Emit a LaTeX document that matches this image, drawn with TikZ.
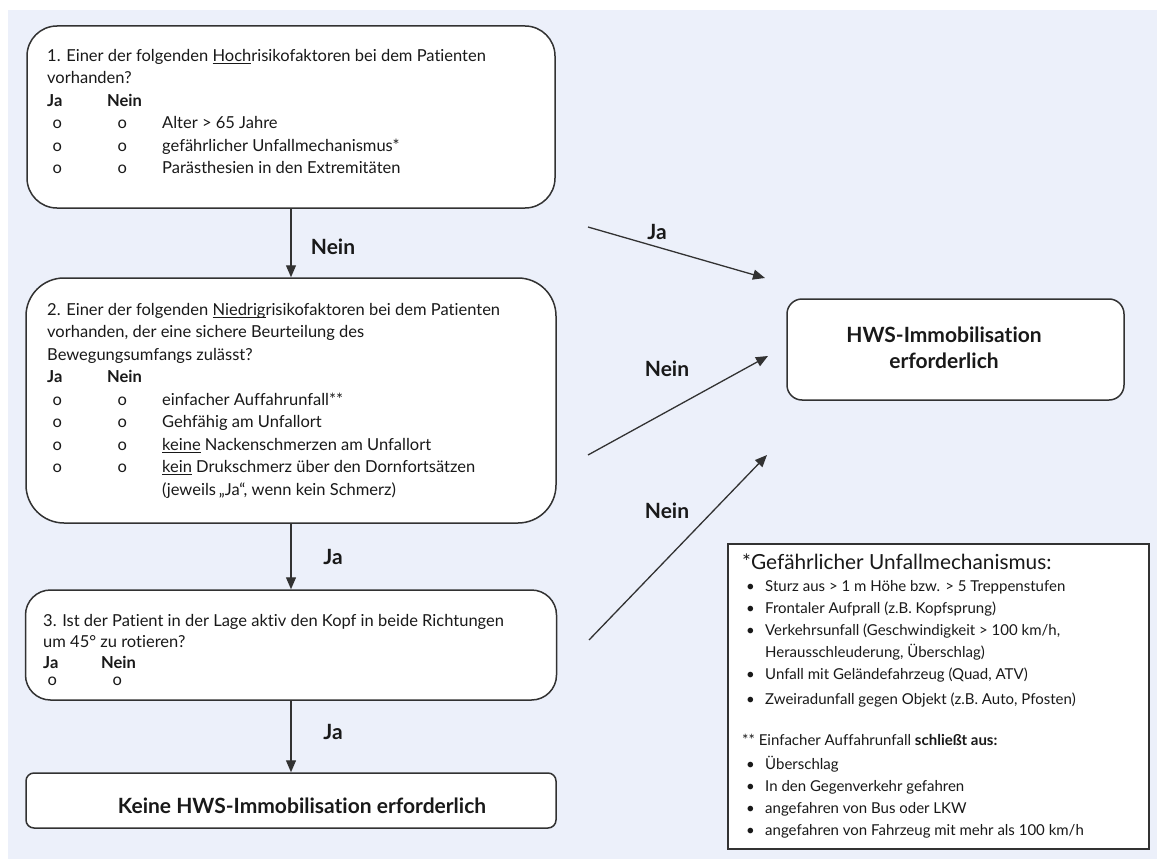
\documentclass[tikz,border=0pt]{standalone}
\usepackage{fontspec}
\setmainfont{Lato}[Ligatures={NoCommon}]
\usetikzlibrary{arrows.meta,positioning}

\definecolor{bgblue}{RGB}{236,240,250}
\definecolor{edge}{RGB}{50,50,50}
\definecolor{ink}{RGB}{25,25,25}

\newcommand{\ulword}[1]{\underline{\smash{#1}}}
\newcommand{\jnrow}[1]{\makebox[20pt]{o}\hspace*{45pt}\makebox[20pt]{o}\hspace*{30pt}#1}
\newcommand{\jnhead}{\makebox[60pt][l]{\textbf{Ja}}\textbf{Nein}}
\newcommand{\lgi}[1]{\hspace*{4pt}\makebox[19pt][l]{\textbullet}#1}

\begin{document}
\begin{tikzpicture}[
  x=1pt, y=-1pt,
  qbox/.style={draw=edge,line width=1.5pt,fill=white,inner sep=0pt},
  txt/.style={anchor=north west,inner sep=0pt,align=left,text=ink,
    font=\fontsize{16.5}{22.5}\selectfont},
  lbl/.style={inner sep=0pt,text=ink,font=\fontsize{21}{24}\selectfont\bfseries},
  flow/.style={draw=edge,line width=1.3pt,-{Triangle[length=12pt,width=10pt]}}
]
  \useasboundingbox (0,0) rectangle (1157,859);
  \fill[bgblue] (8,10) rectangle (1157,859);

  % question boxes
  \node[qbox,rounded corners=30pt,minimum width=528pt,minimum height=182pt] (q1) at (291,117) {};
  \node[qbox,rounded corners=38pt,minimum width=530pt,minimum height=245pt] (q2) at (291,400.5) {};
  \node[qbox,rounded corners=25pt,minimum width=531pt,minimum height=110pt] (q3) at (291,645) {};
  \node[qbox,rounded corners=8pt,minimum width=530pt,minimum height=55pt] (q4) at (291,800.5) {};
  \node[qbox,rounded corners=15pt,minimum width=337pt,minimum height=101pt] (hws) at (955.5,349.5) {};
  \node[draw=edge,line width=1.3pt,fill=white,minimum width=421pt,minimum height=305pt] (leg) at (938.5,696.5) {};

  \node[txt] (t1) at (47,49) {1. Einer der folgenden \ulword{Hoch}risikofaktoren bei dem Patienten\\
    vorhanden?\\
    \jnhead\\
    \jnrow{Alter > 65 Jahre}\\
    \jnrow{gefährlicher Unfallmechanismus*}\\
    \jnrow{Parästhesien in den Extremitäten}};

  \node[txt] (t2) at (47,303) {2. Einer der folgenden \ulword{Niedrig}risikofaktoren bei dem Patienten\\
    vorhanden, der eine sichere Beurteilung des\\
    Bewegungsumfangs zulässt?\\
    \jnhead\\
    \jnrow{einfacher Auffahrunfall**}\\
    \jnrow{Gehfähig am Unfallort}\\
    \jnrow{\ulword{keine} Nackenschmerzen am Unfallort}\\
    \jnrow{\ulword{kein} Drukschmerz über den Dornfortsätzen}\\
    \hspace*{115pt}(jeweils\,„Ja“, wenn kein Schmerz)};

  \node[txt,font=\fontsize{16.5}{21}\selectfont] (t3) at (43,614) {3. Ist der Patient in der Lage aktiv den Kopf in beide Richtungen\\
    um 45° zu rotieren?\\
    \makebox[58pt][l]{\textbf{Ja}}\textbf{Nein}\\[-4pt]
    \makebox[18pt]{o}\hspace*{46pt}\makebox[20pt]{o}};

  \node[lbl] (k1) at (302,806) {Keine HWS-Immobilisation erforderlich};
  \node[lbl,align=center,font=\fontsize{21}{26}\selectfont\bfseries] (h1) at (944,348) {HWS-Immobilisation\\erforderlich};

  % legend
  \node[anchor=north west,inner sep=0pt,align=left,text=ink,font=\fontsize{15}{22}\selectfont] (legtxt) at (742,554) {%
    {\fontsize{20.8}{23}\selectfont *Gefährlicher Unfallmechanismus:}\\
    \lgi{Sturz aus > 1 m Höhe bzw. > 5 Treppenstufen}\\
    \lgi{Frontaler Aufprall (z.B. Kopfsprung)}\\
    \lgi{Verkehrsunfall (Geschwindigkeit > 100 km/h,}\\
    \hspace*{23pt}Herausschleuderung, Überschlag)\\
    \lgi{Unfall mit Geländefahrzeug (Quad, ATV)}\\[3pt]
    \lgi{Zweiradunfall gegen Objekt (z.B. Auto, Pfosten)}\\[19pt]
    ** Einfacher Auffahrunfall \textbf{schließt aus:}\\[2pt]
    \lgi{Überschlag}\\
    \lgi{In den Gegenverkehr gefahren}\\
    \lgi{angefahren von Bus oder LKW}\\
    \lgi{angefahren von Fahrzeug mit mehr als 100 km/h}};

  % connectors
  \draw[flow] (q1.south) -- (q2.north);
  \draw[flow] (q2.south) -- (q3.north);
  \draw[flow] (q3.south) -- (q4.north);

  \coordinate (jas) at (588,227);
  \coordinate (jae) at (765,278);
  \coordinate (n1s) at (588,455);
  \coordinate (n1e) at (768,356);
  \coordinate (n2s) at (589,640);
  \coordinate (n2e) at (767,455);
  \draw[flow] (jas) -- (jae);
  \draw[flow] (n1s) -- (n1e);
  \draw[flow] (n2s) -- (n2e);

  \node[lbl] (l1) at (333,247) {Nein};
  \node[lbl] (l2) at (333,557) {Ja};
  \node[lbl] (l3) at (333,732) {Ja};
  \node[lbl] (l4) at (657,232) {Ja};
  \node[lbl] (l5) at (667,369) {Nein};
  \node[lbl] (l6) at (667,511) {Nein};
\end{tikzpicture}
\end{document}
